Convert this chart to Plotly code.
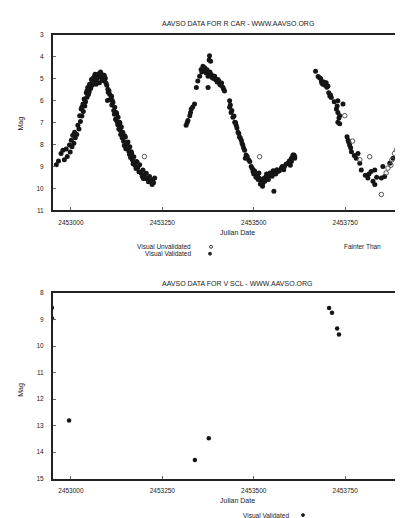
import plotly.graph_objects as go

# ---------------- DATA ----------------
# R CAR, visual validated observations (Julian Date, magnitude)
rcar_val_jd = [
    2452960, 2452966, 2452973, 2452978, 2452982, 2452987, 2452990, 2452996, 2452998,
    2453001, 2453003, 2453005, 2453008, 2453010, 2453012, 2453016, 2453019, 2453022,
    2453024, 2453026, 2453028, 2453030, 2453033, 2453034, 2453036, 2453038, 2453040,
    2453042, 2453044, 2453046, 2453048, 2453050, 2453051, 2453054, 2453056, 2453058,
    2453060, 2453062, 2453065, 2453066, 2453068, 2453069, 2453070, 2453072, 2453074,
    2453076, 2453078, 2453080, 2453083, 2453084, 2453086, 2453088, 2453090, 2453092,
    2453094, 2453098, 2453100, 2453101, 2453102, 2453104, 2453106, 2453108, 2453110,
    2453112, 2453113, 2453115, 2453117, 2453119, 2453120, 2453122, 2453124, 2453126,
    2453128, 2453129, 2453131, 2453133, 2453135, 2453136, 2453138, 2453140, 2453142,
    2453144, 2453146, 2453149, 2453150, 2453153, 2453156, 2453158, 2453160, 2453161,
    2453163, 2453165, 2453168, 2453170, 2453172, 2453175, 2453178, 2453179, 2453183,
    2453186, 2453188, 2453192, 2453195, 2453197, 2453200, 2453204, 2453206, 2453210,
    2453212, 2453215, 2453218, 2453222, 2453224, 2453226, 2453229,
    2453030, 2453044, 2453058, 2453081, 2453091, 2453096, 2453111, 2453125, 2453134,
    2453147, 2453166, 2453181, 2453198,
    2453315, 2453318, 2453320, 2453325, 2453327, 2453329, 2453333, 2453338, 2453343,
    2453347, 2453352, 2453356, 2453358, 2453361, 2453362, 2453366, 2453368, 2453370,
    2453372, 2453375, 2453375, 2453376, 2453378, 2453379, 2453380, 2453382, 2453384,
    2453386, 2453390, 2453393, 2453396, 2453400, 2453402, 2453404, 2453407, 2453410,
    2453412, 2453416, 2453418, 2453420, 2453434, 2453434, 2453436, 2453438, 2453440,
    2453443, 2453446, 2453448, 2453450, 2453452, 2453454, 2453457, 2453459, 2453461,
    2453463, 2453466, 2453468, 2453470, 2453472, 2453475, 2453477, 2453479, 2453482,
    2453486, 2453489, 2453493, 2453496, 2453498, 2453500, 2453502, 2453504, 2453506,
    2453508, 2453511, 2453512, 2453514, 2453516, 2453518, 2453520, 2453522, 2453524,
    2453525, 2453527, 2453530, 2453532, 2453535, 2453539, 2453540, 2453544, 2453548,
    2453550, 2453553, 2453555, 2453557, 2453560, 2453563, 2453566, 2453570, 2453575,
    2453578, 2453582, 2453584, 2453588, 2453593, 2453597, 2453600, 2453603, 2453603,
    2453606, 2453607, 2453610, 2453612, 2453612,
    2453669, 2453676, 2453680, 2453683, 2453685, 2453686, 2453689, 2453692, 2453695,
    2453698, 2453700, 2453703, 2453705, 2453708, 2453710, 2453712, 2453720, 2453726,
    2453728, 2453730, 2453730, 2453730, 2453733, 2453735, 2453735, 2453744,
    2453755, 2453758, 2453760, 2453762, 2453765, 2453767, 2453775, 2453780, 2453785,
    2453790, 2453794, 2453805, 2453812, 2453815, 2453821, 2453826, 2453831, 2453831,
    2453836, 2453849, 2453853, 2453858, 2453872, 2453881, 2453894, 2453903, 2453917,
    2453926,
]
rcar_val_mag = [
    8.93, 8.75, 8.41, 8.26, 8.70, 8.21, 8.55, 8.03, 8.35,
    7.81, 8.10, 7.58, 7.95, 7.44, 7.70, 7.55, 7.13, 7.30,
    6.69, 6.95, 6.38, 6.70, 6.16, 6.50, 5.93, 6.25, 6.05,
    5.64, 5.85, 5.41, 5.72, 5.60, 5.26, 5.45, 5.04, 5.30,
    5.15, 4.95, 4.89, 4.80, 5.12, 5.26, 4.85, 5.00, 4.81,
    4.78, 5.19, 4.92, 4.89, 4.80, 5.05, 4.95, 5.10, 5.04,
    4.98, 5.30, 6.00, 5.49, 5.62, 5.55, 5.71, 5.95, 5.86,
    6.20, 6.00, 6.09, 6.45, 6.62, 6.31, 6.85, 6.54, 6.95,
    7.10, 6.76, 7.30, 6.99, 7.35, 7.55, 7.21, 7.70, 7.44,
    7.85, 8.05, 7.66, 8.20, 8.00, 7.89, 8.30, 8.45, 8.11,
    8.60, 8.33, 8.70, 8.88, 8.56, 8.95, 9.10, 8.78, 9.05,
    9.25, 8.93, 9.30, 9.45, 9.16, 9.40, 9.55, 9.31, 9.55,
    9.70, 9.46, 9.65, 9.83, 9.61, 9.75, 9.53,
    6.30, 5.55, 5.05, 4.70, 4.85, 5.20, 5.80, 6.60, 7.05,
    7.60, 8.40, 8.80, 9.55,
    7.13, 7.00, 6.91, 6.69, 6.55, 6.38, 6.30, 6.16, 5.41,
    5.11, 4.89, 4.59, 4.70, 4.44, 4.55, 4.51, 4.65, 4.74,
    4.60, 4.89, 5.41, 4.75, 4.15, 3.96, 4.70, 4.21, 4.81,
    4.95, 5.00, 4.89, 5.05, 5.15, 5.04, 5.10, 5.26, 5.30,
    5.20, 5.41, 5.50, 5.56, 6.01, 6.31, 6.20, 6.54, 6.45,
    6.76, 6.70, 6.99, 7.00, 7.13, 7.25, 7.44, 7.50, 7.66,
    7.70, 7.81, 7.95, 8.03, 8.15, 8.26, 8.63, 8.48, 8.55,
    8.70, 8.78, 9.01, 9.10, 9.23, 9.35, 9.20, 9.31, 9.50,
    9.40, 9.46, 9.60, 9.30, 9.55, 9.80, 9.61, 9.65, 9.90,
    9.76, 9.55, 9.68, 9.50, 9.35, 9.46, 9.60, 9.30, 9.38,
    9.45, 9.20, 10.13, 9.31, 9.35, 9.15, 9.23, 9.20, 9.08,
    9.00, 9.15, 9.01, 8.90, 8.86, 8.75, 8.95, 8.63, 8.78,
    8.60, 8.48, 8.48, 8.55, 8.63,
    4.66, 4.90, 4.96, 5.00, 5.11, 5.20, 5.26, 5.15, 5.30,
    5.19, 5.40, 5.34, 5.65, 5.79, 5.75, 5.86, 6.05, 6.38,
    6.25, 6.01, 6.54, 6.99, 6.80, 6.69, 7.06, 6.16,
    7.65, 7.81, 7.90, 8.03, 8.15, 8.33, 8.50, 8.63, 8.41,
    8.86, 9.16, 9.40, 9.53, 9.35, 9.23, 9.68, 9.16, 9.83,
    9.50, 9.53, 9.01, 9.46, 8.86, 8.63, 8.18, 7.81, 7.06,
    6.46,
]

# R CAR, visual unvalidated observations
rcar_unv_jd = [2453201, 2453516, 2453749, 2453770, 2453790, 2453817, 2453849, 2453862,
               2453867, 2453875, 2453878, 2453885, 2453890, 2453895, 2453900, 2453908,
               2453912, 2453916, 2453922, 2453925]
rcar_unv_mag = [8.55, 8.56, 6.69, 7.85, 8.70, 8.56, 10.28, 9.30,
                9.08, 8.95, 8.70, 8.41, 8.25, 8.00, 7.75, 7.58,
                7.40, 7.20, 7.28, 6.95]

# V SCL, visual validated observations
vscl_val_jd = [2452948, 2452948, 2452995, 2453339, 2453377, 2453706, 2453714, 2453728, 2453733]
vscl_val_mag = [8.55, 8.95, 12.81, 14.30, 13.48, 8.56, 8.74, 9.33, 9.56]

# ticks and labels
jd_ticks = [2453000, 2453250, 2453500, 2453750]
jd_tick_labels = ["2453000", "2453250", "2453500", "2453750"]
rcar_mag_ticks = [3, 4, 5, 6, 7, 8, 9, 10, 11]
vscl_mag_ticks = [8, 9, 10, 11, 12, 13, 14, 15]

titles = ["AAVSO DATA FOR R CAR - WWW.AAVSO.ORG", "AAVSO DATA FOR V SCL - WWW.AAVSO.ORG"]

# ---------------- FIGURE ----------------
W, H = 403, 518
FONT = "Liberation Sans"
TXT = "#1a1a1a"


def px(x):
    return x / W


def py(y):
    return 1 - y / H


fig = go.Figure()

fig.add_trace(go.Scatter(x=rcar_val_jd, y=rcar_val_mag, mode="markers",
                         marker=dict(size=5, color="#151515"), xaxis="x", yaxis="y",
                         showlegend=False))
fig.add_trace(go.Scatter(x=rcar_unv_jd, y=rcar_unv_mag, mode="markers",
                         marker=dict(size=4.5, color="rgba(0,0,0,0)",
                                     line=dict(color="#555555", width=1)),
                         xaxis="x", yaxis="y", showlegend=False))
fig.add_trace(go.Scatter(x=vscl_val_jd, y=vscl_val_mag, mode="markers",
                         marker=dict(size=4.5, color="#151515"), xaxis="x2", yaxis="y2",
                         showlegend=False))

xr = [2452951, 2453930]
axis_common = dict(showgrid=False, zeroline=False, showline=True, linecolor="#222222",
                   linewidth=2, ticks="inside", ticklen=3, tickcolor="#666666",
                   tickfont=dict(family=FONT, size=6.5, color=TXT))

fig.update_layout(
    width=W, height=H, margin=dict(l=0, r=0, t=0, b=0),
    paper_bgcolor="white", plot_bgcolor="white",
    xaxis=dict(domain=[px(45), 1.0], range=xr, tickvals=jd_ticks, ticktext=jd_tick_labels,
               mirror=True, ticklabelstandoff=5, anchor="y", **axis_common),
    yaxis=dict(domain=[py(201), py(23)], range=[11, 3], tickvals=rcar_mag_ticks,
               ticklabelstandoff=6, anchor="x", **axis_common),
    xaxis2=dict(domain=[px(45), 1.0], range=xr, tickvals=jd_ticks, ticktext=jd_tick_labels,
                mirror=True, ticklabelstandoff=5, anchor="y2", **axis_common),
    yaxis2=dict(domain=[py(473), py(285)], range=[15, 8], tickvals=vscl_mag_ticks,
                ticklabelstandoff=6, anchor="x2", **axis_common),
)

ann = []
# titles
ann.append(dict(x=px(230), y=py(12), text=titles[0]))
ann.append(dict(x=px(230), y=py(275), text=titles[1]))
# axis titles
ann.append(dict(x=px(230), y=py(224), text="Julian Date"))
ann.append(dict(x=px(230), y=py(495), text="Julian Date"))
ann.append(dict(x=px(13), y=py(113), text="Mag", textangle=-90))
ann.append(dict(x=px(13), y=py(383), text="Mag", textangle=-90))
for a in ann:
    a.update(xref="paper", yref="paper", showarrow=False,
             font=dict(family=FONT, size=7, color=TXT), xanchor="center", yanchor="middle")

# legend texts
leg = [
    dict(x=px(185), y=py(238), text="Visual Unvalidated", xanchor="right"),
    dict(x=px(185), y=py(245), text="Visual Validated", xanchor="right"),
    dict(x=px(375), y=py(238), text="Fainter Than", xanchor="right"),
    dict(x=px(283), y=py(510), text="Visual Validated", xanchor="right"),
]
for a in leg:
    a.update(xref="paper", yref="paper", showarrow=False, yanchor="middle",
             font=dict(family=FONT, size=6.5, color=TXT))
ann += leg
fig.update_layout(annotations=ann)

shapes = []
# legend markers
for (cx, cy, filled) in [(203, 238, False), (202, 245, True), (399, 238, False), (295, 510, True)]:
    r = 1.5
    shapes.append(dict(type="circle", xref="paper", yref="paper",
                       x0=px(cx - r), x1=px(cx + r), y0=py(cy + r), y1=py(cy - r),
                       line=dict(color="#333333", width=1),
                       fillcolor="#111111" if filled else "rgba(0,0,0,0)"))
fig.update_layout(shapes=shapes)

fig.write_html("out.html")
